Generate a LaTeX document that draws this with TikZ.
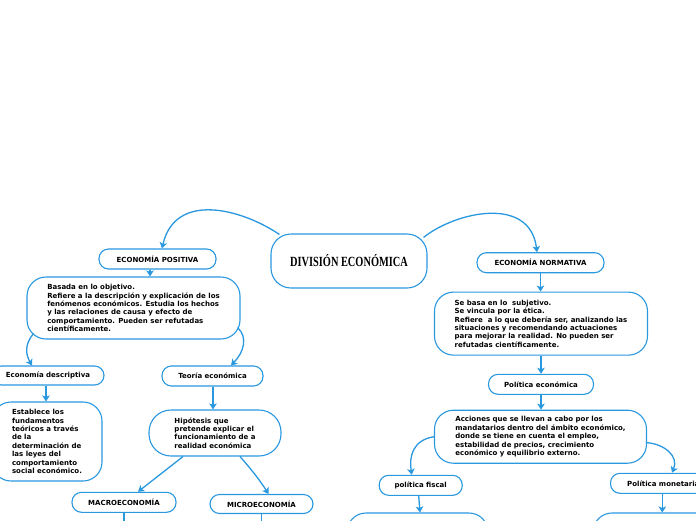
\documentclass[tikz,border=0pt]{standalone}
\usepackage{fontspec}
\setmainfont{DejaVu Sans}
\newfontfamily\titlefont{Liberation Serif}
\usetikzlibrary{arrows.meta,calc}
\definecolor{cblue}{RGB}{41,152,223}
\tikzset{
  box/.style={draw=cblue, line width=1.1pt, fill=white, inner sep=0pt, align=left,
    font=\fontsize{7}{8.4}\selectfont\bfseries, text=black},
  pill/.style={box, rounded corners=9.5pt},
  big/.style={box, rounded corners=19pt},
  arr/.style={draw=cblue, line width=1.3pt, -{Stealth[length=6pt,width=7.5pt,inset=1.5pt]}},
}
\begin{document}
\begin{tikzpicture}[x=1pt,y=-1pt]
\useasboundingbox (0,0) rectangle (696,520);
\fill[white] (0,0) rectangle (696,520);
\clip (0,0) rectangle (696,520);

% central
\node[big, rounded corners=20pt, minimum width=156, minimum height=54,
  font=\titlefont\bfseries\fontsize{14}{14}\selectfont] (main) at (349,261)
  {\scalebox{0.74}[1]{DIVISIÓN ECONÓMICA}};

% left branch
\node[pill, minimum width=117, minimum height=20] (positiva) at (157.5,259) {ECONOMÍA POSITIVA};
\node[big, minimum width=213, minimum height=62] (posdesc) at (133.5,308)
  {Basada en lo objetivo.\\
   Refiere a la descripción y explicación de los\\
   fenómenos económicos. Estudia los hechos\\
   y las relaciones de causa y efecto de\\
   comportamiento. Pueden ser refutadas\\
   científicamente.};
\node[pill, minimum width=112, minimum height=19] (descriptiva) at (48,375.5) {Economía descriptiva};
\node[big, minimum width=110, minimum height=79] (establece) at (47,441.5)
  {Establece los\\
   fundamentos\\
   teóricos a través\\
   de la\\
   determinación de\\
   las leyes del\\
   comportamiento\\
   social económico.};
\node[pill, minimum width=101, minimum height=20] (teoria) at (212.5,376) {Teoría económica};
\node[box, rounded corners=22pt, minimum width=132, minimum height=46] (hipotesis) at (215,433)
  {Hipótesis que\\
   pretende explicar el\\
   funcionamiento de a\\
   realidad económica};
\node[pill, minimum width=104, minimum height=20] (macro) at (124,502.3) {MACROECONOMÍA};
\node[pill, minimum width=103, minimum height=19] (micro) at (261.5,504) {MICROECONOMÍA};
\coordinate (macroend) at (124,527);
\coordinate (microend) at (261.5,529);

% right branch
\node[pill, minimum width=127, minimum height=20] (normativa) at (540.5,262.7) {ECONOMÍA NORMATIVA};
\node[big, minimum width=213, minimum height=63] (normdesc) at (541,323.6)
  {Se basa en lo\ \ subjetivo.\\
   Se vincula por la ética.\\
   Refiere\ \ a lo que debería ser, analizando las\\
   situaciones y recomendando actuaciones\\
   para mejorar la realidad. No pueden ser\\
   refutadas científicamente.};
\node[pill, minimum width=105, minimum height=20] (poleco) at (541,384.3) {Política económica};
\node[big, minimum width=212, minimum height=53] (acciones) at (540.5,436.7)
  {Acciones que se llevan a cabo por los\\
   mandatarios dentro del ámbito económico,\\
   donde se tiene en cuenta el empleo,\\
   estabilidad de precios, crecimiento\\
   económico y equilibrio externo.};
\node[pill, minimum width=83, minimum height=20] (fiscal) at (420.7,485.3) {política fiscal};
\node[pill, minimum width=105.6, minimum height=20] (monetaria) at (663.3,483.3) {Política monetaria};
\node[big, minimum width=141, minimum height=46] (fchild) at (417.5,536) {};
\node[big, minimum width=167, minimum height=46] (mchild) at (676.5,536) {};

% connectors
\draw[arr] ($(main.north west)+(9,1)$) .. controls (240,208) and (175,192) .. ($(positiva.north)+(4.5,0)$);
\draw[arr] ($(main.north east)+(-4,4)$) .. controls (455,212) and (530,195) .. ($(normativa.north)+(-3.5,0)$);
\draw[arr] ($(positiva.south)+(-7.5,0)$) -- ($(posdesc.north)+(16.5,0)$);
\draw[arr] ($(posdesc.south west)+(7,-6)$) .. controls (24,345) and (26,355) .. ($(descriptiva.north)+(-16,0)$);
\draw[arr] ($(posdesc.south east)+(-3,-12)$) .. controls (248,337) and (244,352) .. ($(teoria.north)+(18.5,0)$);
\draw[arr] ($(descriptiva.south)+(-2,0)$) -- ($(establece.north)+(-1,0)$);
\draw[arr] ($(teoria.south)+(0.5,0)$) -- ($(hipotesis.north)+(-2,0)$);
\draw[arr] ($(hipotesis.south)+(-32,0)$) -- ($(macro.north)+(14,0)$);
\draw[arr] ($(hipotesis.south)+(25,0)$) .. controls (252,470) and (261,482) .. ($(micro.north)+(7,0)$);
\draw[arr] (macro.south) -- (macroend);
\draw[arr] (micro.south) -- (microend);
\draw[arr] (normativa.south) -- ($(normdesc.north)+(-0.5,0)$);
\draw[arr] (normdesc.south) -- (poleco.north);
\draw[arr] (poleco.south) -- ($(acciones.north)+(0.5,0)$);
\draw[arr] (acciones.west) .. controls (413,440) and (409,456) .. ($(fiscal.north)+(-9,0)$);
\draw[arr] ($(acciones.east)+(0,6)$) .. controls (664,444) and (679,456) .. ($(monetaria.north)+(8.7,0)$);
\draw[arr] ($(fiscal.south)+(-2,0)$) -- ($(fchild.north)+(2.5,0)$);
\draw[arr] ($(monetaria.south)+(-1,0)$) -- ($(mchild.north)+(-14.2,0)$);
\end{tikzpicture}
\end{document}
